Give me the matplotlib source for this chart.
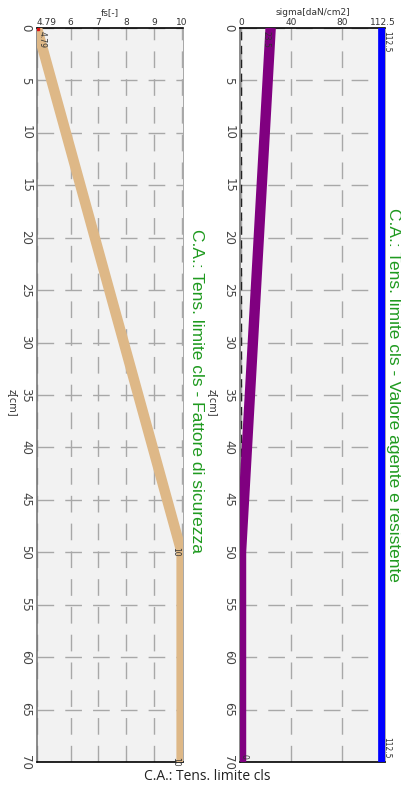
import matplotlib
matplotlib.use("Agg")
import matplotlib.pyplot as plt

# data
z_fs = [0, 50, 70]
fs_vals = [4.79, 10, 10]
z_sig = [0, 50, 70]
sig_vals = [23.5, 0, 0]
z_res = [0, 70]
res_vals = [112.5, 112.5]
fs_ticks = [4.79, 6, 7, 8, 9, 10]
fs_ticklabels = ["4.79", "6", "7", "8", "9", "10"]
sig_ticks = [0, 40, 80, 112.5]
sig_ticklabels = ["0", "40", "80", "112.5"]
z_ticks = list(range(0, 71, 5))

W, H = 401, 787
fig = plt.figure(figsize=(W / 100, H / 100), dpi=100)
fig.patch.set_facecolor("white")

green = "#1f9a1f"
bg = "#f2f2f2"

def make_axes(left, right):
    ax = fig.add_axes([left / W, (H - 762) / H, (right - left) / W, (762 - 28) / H])
    ax.set_facecolor(bg)
    ax.set_ylim(70, 0)
    ax.set_yticks(z_ticks)
    ax.set_yticklabels([str(t) for t in z_ticks], rotation=-90, fontsize=8.5,
                       color="#444", va="center", ha="center")
    ax.tick_params(axis="y", length=0, pad=8)
    ax.xaxis.tick_top()
    ax.tick_params(axis="x", length=0, pad=1, labelsize=6.5, labelcolor="#333")
    ax.grid(True, color="#a8a8a8", linestyle=(0, (12, 8)), linewidth=1.0)
    ax.set_axisbelow(True)
    ax.spines["top"].set_color("black")
    ax.spines["top"].set_linewidth(1.2)
    ax.spines["bottom"].set_color("black")
    ax.spines["bottom"].set_linewidth(1.2)
    ax.spines["left"].set_color("#777")
    ax.spines["left"].set_linewidth(1.2)
    ax.spines["right"].set_color("#999")
    ax.spines["right"].set_linewidth(0.6)
    return ax

# left panel
ax1 = make_axes(37, 183)
ax1.set_xlim(4.79, 10.05)
ax1.set_xticks(fs_ticks)
ax1.set_xticklabels(fs_ticklabels)
ax1.get_xticklabels()[0].set_horizontalalignment("left")
ax1.plot(fs_vals, z_fs, color="#deb887", linewidth=7.5, solid_capstyle="butt", zorder=3)
ax1.plot([fs_vals[0]], [z_fs[0]], marker="s", color="#dd1111", markersize=3, zorder=4)
ax1.text(fs_vals[0] + 0.18, z_fs[0] + 0.3, "4.79", rotation=-90, fontsize=5.5,
         va="top", ha="center", color="#333", zorder=5)
for zz, v in zip(z_fs[1:], fs_vals[1:]):
    ax1.text(v - 0.22, zz, "10", rotation=-90, fontsize=5.5, va="center",
             ha="center", color="#333", zorder=5)
ax1.set_xlabel("fs[-]", fontsize=6.5, color="#333", labelpad=2)
ax1.xaxis.set_label_position("top")
ax1.set_ylabel("z[cm]", rotation=-90, fontsize=7, color="#333", va="center", ha="center")
ax1.yaxis.set_label_coords(-0.165, 0.49)
fig.text(196 / W, 1 - 391 / H, "C.A.: Tens. limite cls - Fattore di sicurezza",
         rotation=-90, color=green, fontsize=12.5, ha="center", va="center",
         family="Liberation Sans")

# right panel
ax2 = make_axes(240, 385)
ax2.set_xlim(-0.8, 114.2)
ax2.set_xticks(sig_ticks)
ax2.set_xticklabels(sig_ticklabels)
ax2.axvline(0, color="#222", linestyle=(0, (6, 4)), linewidth=1.0, zorder=2)
ax2.plot(sig_vals, z_sig, color="#800080", linewidth=7.5, solid_capstyle="butt", zorder=3)
ax2.plot(res_vals, z_res, color="#0000ff", linewidth=7, solid_capstyle="butt", zorder=3)
ax2.text(sig_vals[0] - 3.8, z_sig[0] + 0.3, "23.5", rotation=-90, fontsize=5.5,
         va="top", ha="center", color="#333", zorder=5)
ax2.text(sig_vals[-1] + 2.5, z_sig[-1] - 0.3, "0", rotation=-90, fontsize=5.5,
         va="bottom", ha="center", color="#333", zorder=5)
ax2.text(res_vals[0] + 3.0, z_res[0] + 0.3, "112.5", rotation=-90, fontsize=5.5,
         va="top", ha="center", color="#333", zorder=5)
ax2.text(res_vals[-1] + 3.0, z_res[-1] - 0.3, "112.5", rotation=-90, fontsize=5.5,
         va="bottom", ha="center", color="#333", zorder=5)
ax2.set_xlabel("sigma[daN/cm2]", fontsize=6.5, color="#333", labelpad=2)
ax2.xaxis.set_label_position("top")
ax2.set_ylabel("z[cm]", rotation=-90, fontsize=7, color="#333", va="center", ha="center")
ax2.yaxis.set_label_coords(-0.186, 0.49)
fig.text(393 / W, 1 - 395 / H, "C.A.: Tens. limite cls - Valore agente e resistente",
         rotation=-90, color=green, fontsize=12.5, ha="center", va="center",
         family="Liberation Sans")

fig.text(207 / W, 1 - 777 / H, "C.A.: Tens. limite cls", fontsize=10,
         ha="center", va="center", color="#222", family="Open Sans")

fig.savefig("out.png", dpi=100, facecolor="white")
